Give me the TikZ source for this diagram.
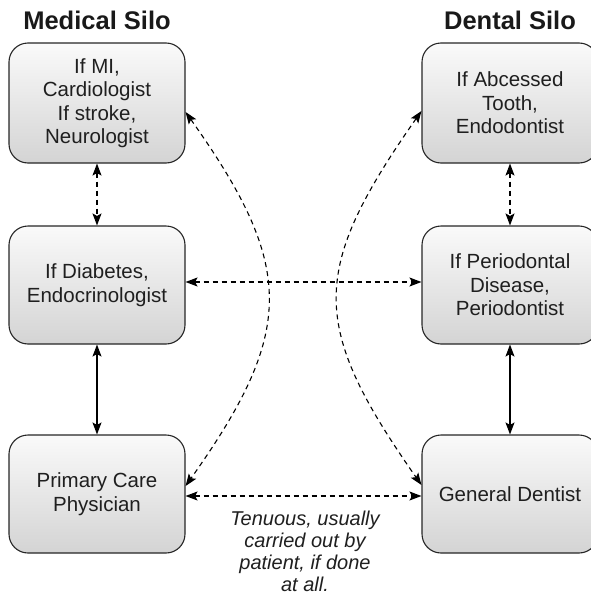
\documentclass[tikz,border=0pt]{standalone}
\usepackage{fontspec}
\setmainfont{Liberation Sans}
\usetikzlibrary{arrows.meta}
\begin{document}
\begin{tikzpicture}[x=1pt,y=-1pt,
  silobox/.style={draw=black!85,line width=1.1pt,rounded corners=19pt,
    top color=gray!4,bottom color=gray!34,minimum width=176pt,
    minimum height=118pt,inner sep=0pt,align=center,text=black!88,
    font=\fontsize{20.5}{23.5}\selectfont},
  title/.style={font=\fontsize{25.5}{28}\selectfont\bfseries,text=black!90,inner sep=0pt,anchor=base},
  link/.style={line width=1.1pt,{Stealth[length=12pt,width=9pt,inset=2.5pt]}-{Stealth[length=12pt,width=9pt,inset=2.5pt]}},
  weak/.style={link,dash pattern=on 5pt off 4pt},
  note/.style={font=\fontsize{20}{22}\selectfont\itshape,text=black!88,align=center,inner sep=0pt}]
\useasboundingbox (0,0) rectangle (591,597);
\clip (0,0) rectangle (591,597);

% titles
\node[title] (tmed) at (97,29) {Medical Silo};
\node[title] (tden) at (510,29) {Dental Silo};

% medical column
\node[silobox,minimum height=120pt] (lt) at (97,103) {If MI,\\Cardiologist\\If stroke,\\Neurologist};
\node[silobox] (lm) at (97,285) {If Diabetes,\\Endocrinologist};
\node[silobox] (lb) at (97,494) {Primary Care\\Physician};

% dental column
\node[silobox,minimum height=120pt] (rt) at (510,103) {If Abcessed\\Tooth,\\Endodontist};
\node[silobox] (rm) at (510,285) {If Periodontal\\Disease,\\Periodontist};
\node[silobox] (rb) at (510,494) {General Dentist};

% links within each silo
\draw[weak] (lt.south) -- (lm.north);
\draw[link] (lm.south) -- (lb.north);
\draw[weak] (rt.south) -- (rm.north);
\draw[link] (rm.south) -- (rb.north);

% links across the silos
\draw[weak] ([yshift=3pt]lm.east) -- ([yshift=3pt]rm.west);
\draw[weak] ([yshift=-2pt]lb.east) -- ([yshift=-2pt]rb.west);

% curved referral paths
\draw[weak] ([yshift=-9pt]lt.east) .. controls +(110,155) and +(110,-155) .. ([yshift=8pt]lb.east);
\draw[weak] ([yshift=-8pt]rt.west) .. controls +(-112,160) and +(-112,-160) .. ([yshift=9pt]rb.west);

% note under the bottom link
\node[note,anchor=north] (tn) at (305,511) {Tenuous, usually\\carried out by\\patient, if done\\at all.};
\end{tikzpicture}
\end{document}
